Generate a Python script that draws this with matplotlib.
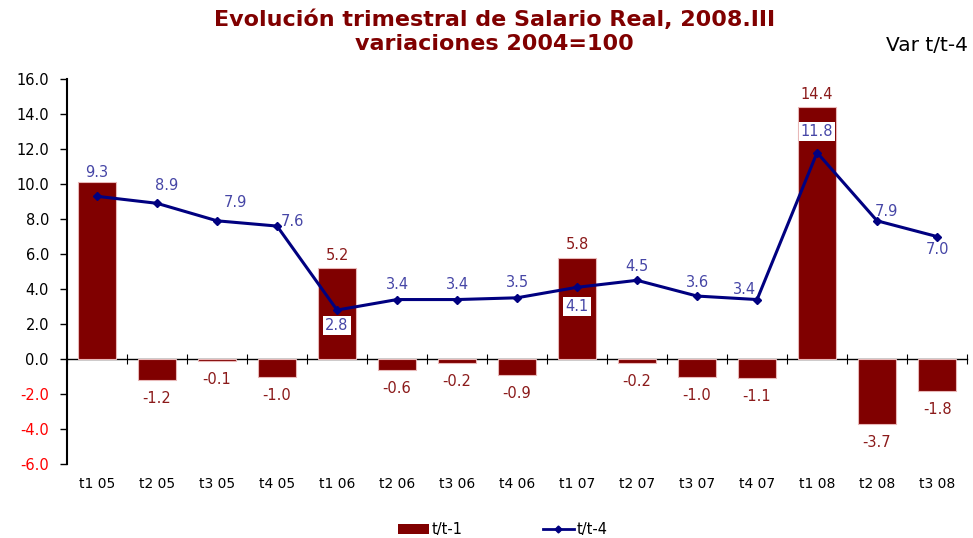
import numpy as np
import matplotlib
matplotlib.use("Agg")
import matplotlib.pyplot as plt
from matplotlib.lines import Line2D
from matplotlib.patches import Patch

categories = ["t1 05", "t2 05", "t3 05", "t4 05", "t1 06", "t2 06", "t3 06", "t4 06",
              "t1 07", "t2 07", "t3 07", "t4 07", "t1 08", "t2 08", "t3 08"]
var_t1 = [10.1, -1.2, -0.1, -1.0, 5.2, -0.6, -0.2, -0.9, 5.8, -0.2, -1.0, -1.1, 14.4, -3.7, -1.8]
var_t4 = [9.3, 8.9, 7.9, 7.6, 2.8, 3.4, 3.4, 3.5, 4.1, 4.5, 3.6, 3.4, 11.8, 7.9, 7.0]
yticks = [16.0, 14.0, 12.0, 10.0, 8.0, 6.0, 4.0, 2.0, 0.0, -2.0, -4.0, -6.0]

# the first bar label is hidden behind the 9.3 label in the original
show_bar_lab = [False] + [True] * 14
# label offsets (points) for the t/t-4 labels, and which get a white box
lab_off = [(0, 17), (7, 13), (13, 13), (11, 3), (0, -11), (0, 11), (0, 11), (0, 11),
           (0, -14), (0, 10), (0, 10), (-9, 7), (0, 15), (7, 7), (0, -9)]
boxed = [True, False, False, False, True, False, False, False,
         True, False, False, False, True, False, False]

BAR = "#800000"
LINE = "#000080"
LAB = "#4646A6"
RED_TXT = "#8B1A1A"

plt.rcParams["font.family"] = ["DejaVu Sans"]

fig = plt.figure(figsize=(9.73, 5.38), dpi=100)
ax = fig.add_axes([0.0689, 0.1375, 0.925, 0.7155])
x = np.arange(len(categories))

ax.bar(x, var_t1, width=0.63, color=BAR, edgecolor="#E8B8B8", linewidth=0.8, zorder=2)
ax.plot(x, var_t4, color=LINE, lw=2.2, marker="D", ms=4, zorder=3)

for xi, v, s in zip(x, var_t1, show_bar_lab):
    if not s:
        continue
    ax.annotate(f"{v:.1f}", (xi, v), xytext=(0, 4 if v >= 0 else -8), textcoords="offset points",
                ha="center", va="bottom" if v >= 0 else "top", color=RED_TXT, fontsize=10.5, zorder=4)

for xi, v, off, b in zip(x, var_t4, lab_off, boxed):
    bbox = dict(facecolor="white", edgecolor="none", pad=1.5) if b else None
    ax.annotate(f"{v:.1f}", (xi, v), xytext=off, textcoords="offset points",
                ha="center", va="center", color=LAB, fontsize=10.5, bbox=bbox, zorder=5)

ax.set_xlim(-0.5, len(categories) - 0.5)
ax.set_ylim(-6, 16)
ax.set_yticks(yticks)
ax.set_yticklabels([f"{t:.1f}" for t in yticks])
for lbl, t in zip(ax.get_yticklabels(), yticks):
    lbl.set_color("red" if t < 0 else "black")
ax.tick_params(axis="y", direction="out", length=5, width=1, labelsize=10.5, pad=8)
ax.set_xticks(x)
ax.set_xticklabels(categories)
ax.tick_params(axis="x", length=0, labelsize=10, pad=9)
for s in ["top", "right", "bottom"]:
    ax.spines[s].set_visible(False)
ax.spines["left"].set_linewidth(1.5)

# zero line with category separator ticks
zero = ax.secondary_xaxis(0, transform=ax.transData)
zero.set_xticks(np.arange(len(categories) + 1) - 0.5)
zero.set_xticklabels([])
zero.tick_params(axis="x", direction="inout", length=7, width=0.8)
zero.spines["bottom"].set_linewidth(1)

fig.text(0.508, 0.963, "Evolución trimestral de Salario Real, 2008.III", ha="center", va="center",
         fontsize=16, fontweight="bold", color=BAR)
fig.text(0.508, 0.918, "variaciones 2004=100", ha="center", va="center",
         fontsize=16, fontweight="bold", color=BAR)
fig.text(0.995, 0.915, "Var t/t-4", ha="right", va="center", fontsize=14.5, color="black")

handles = [Patch(facecolor=BAR, edgecolor="none"),
           Line2D([0], [0], color=LINE, lw=2, marker="D", ms=3.5)]
fig.legend(handles, ["t/t-1", "t/t-4"], loc="center", bbox_to_anchor=(0.517, 0.015),
           ncol=2, frameon=False, fontsize=10.5, handlelength=2.1, handletextpad=0.2,
           columnspacing=5.5, borderaxespad=0)

fig.savefig("out.png", dpi=100)
